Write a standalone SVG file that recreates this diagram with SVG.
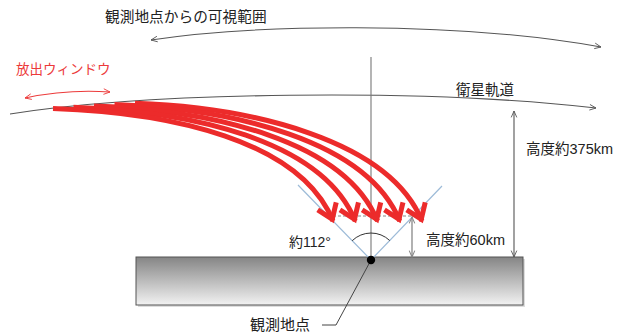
<svg xmlns="http://www.w3.org/2000/svg" width="621" height="332" viewBox="0 0 621 332">
<defs>
<style>
text{font-family:"Liberation Sans","Noto Sans CJK JP",sans-serif;fill:#222;}
.thin{fill:none;stroke:#555;stroke-width:1.1;}
.red{fill:none;stroke:#ec2b2b;stroke-width:5;}
</style>
<linearGradient id="gnd" x1="0" y1="0" x2="0" y2="1">
<stop offset="0" stop-color="#858585"/>
<stop offset="1" stop-color="#f2f2f2"/>
</linearGradient>
<marker id="ah" viewBox="0 0 10 10" refX="9" refY="5" markerWidth="8" markerHeight="8" markerUnits="userSpaceOnUse" orient="auto-start-reverse">
<path d="M1,1.5 L9,5 L1,8.5" fill="none" stroke="#555" stroke-width="1.1"/>
</marker>
<marker id="ahg" viewBox="0 0 10 10" refX="9" refY="5" markerWidth="8" markerHeight="8" markerUnits="userSpaceOnUse" orient="auto-start-reverse">
<path d="M1,1.5 L9,5 L1,8.5" fill="none" stroke="#888" stroke-width="1.3"/>
</marker>
<marker id="ahr" viewBox="0 0 10 10" refX="9" refY="5" markerWidth="8" markerHeight="8" markerUnits="userSpaceOnUse" orient="auto-start-reverse">
<path d="M1,1.5 L9,5 L1,8.5" fill="none" stroke="#ec3a3a" stroke-width="1.1"/>
</marker>
<marker id="rh" viewBox="0 0 26 26" refX="19" refY="13" markerWidth="26" markerHeight="26" markerUnits="userSpaceOnUse" orient="auto">
<path d="M3,3 L17,13 L3,23" fill="none" stroke="#ec2b2b" stroke-width="5"/>
</marker>
</defs>
<rect width="621" height="332" fill="#fff"/>

<g id="ground">
<rect x="138" y="259" width="387" height="48" fill="#bbb" opacity="0.5"/>
<rect x="136" y="257" width="387" height="48" fill="url(#gnd)" stroke="#555" stroke-width="1"/>
</g>

<g id="connectors">
<path id="range-arc" class="thin" d="M151,40 C250,25 450,20 601,47" marker-start="url(#ah)" marker-end="url(#ah)"/>
<path id="orbit" class="thin" d="M10,114 C150,92 420,88 596,108" marker-end="url(#ah)"/>
<path id="window-arrow" fill="none" stroke="#ec3a3a" stroke-width="1.1" d="M25,98 Q67,89 110,92" marker-start="url(#ahr)" marker-end="url(#ahr)"/>
<line x1="371" y1="57" x2="371" y2="260" stroke="#777" stroke-width="1.1"/>
<polyline points="298,185 371,260 442,186" fill="none" stroke="#9dbbd8" stroke-width="1.2"/>
<line x1="333" y1="216" x2="413" y2="216" stroke="#888" stroke-width="1.2" stroke-dasharray="3,2"/>
<path d="M352.2,240.7 A27,27 0 0 1 389.7,240.5" fill="none" stroke="#333" stroke-width="1"/>
<line x1="514" y1="111" x2="514" y2="257" class="thin" stroke="#666" marker-start="url(#ah)" marker-end="url(#ah)"/>
<line x1="412" y1="217" x2="412" y2="257" fill="none" stroke="#888" stroke-width="1.3" marker-start="url(#ahg)" marker-end="url(#ahg)"/>
<polyline points="322,325 336,325 371,260" fill="none" stroke="#444" stroke-width="1"/>
<path class="red" d="M135,103.3 C252,107.3 389,140 422,221" marker-end="url(#rh)"/>
<path class="red" d="M114.5,104.6 C231.5,108.6 366.75,140 399.75,221" marker-end="url(#rh)"/>
<path class="red" d="M94,105.9 C211,109.9 344.5,140 377.5,221" marker-end="url(#rh)"/>
<path class="red" d="M73.5,107.2 C190.5,111.2 322.25,140 355.25,221" marker-end="url(#rh)"/>
<path class="red" d="M53,108.5 C170,112.5 300,140 333,221" marker-end="url(#rh)"/>
</g>

<g id="observer">
<circle cx="371" cy="260" r="4.2" fill="#000"/>
</g>

<g id="labels">
<text x="105" y="22" font-size="14.7">観測地点からの可視範囲</text>
<text x="16" y="74" font-size="13.5" style="fill:#ec3a3a">放出ウィンドウ</text>
<text x="456" y="95" font-size="14.5">衛星軌道</text>
<text x="526" y="154" font-size="14.5">高度約375km</text>
<text x="426" y="245" font-size="14.5">高度約60km</text>
<text x="289" y="247" font-size="14">約112°</text>
<text x="250" y="330" font-size="15">観測地点</text>
</g>
</svg>
